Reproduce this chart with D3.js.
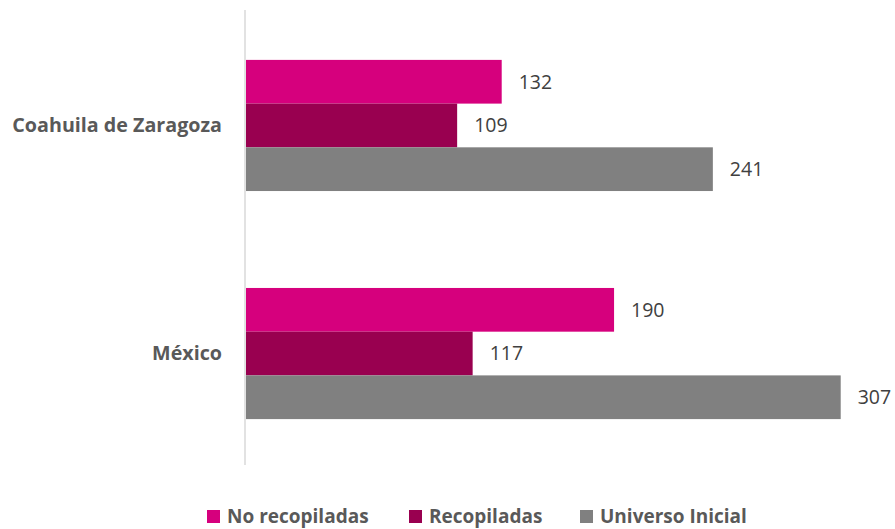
<!DOCTYPE html>
<html>
<head>
	<meta charset="utf-8" />
	<style>
		body { margin: 0; background: #fff; }
		svg { display: block; font-family: "Open Sans", sans-serif; }
	</style>
</head>
<body>
	<script src="https://cdn.jsdelivr.net/npm/d3@7"></script>
	<script>
		// data
		var categories = ["Coahuila de Zaragoza", "México"];
		var seriesNames = ["No recopiladas", "Recopiladas", "Universo Inicial"];
		var noRecopiladas = [132, 190];
		var recopiladas = [109, 117];
		var universoInicial = [241, 307];
		var colors = ["#d6007d", "#990050", "#808080"];

		var width = 895, height = 529;
		var svg = d3.select("body").append("svg")
			.attr("width", width)
			.attr("height", height);

		var values = [noRecopiladas, recopiladas, universoInicial];
		var rows = categories.map((c, i) => ({
			cat: c,
			vals: seriesNames.map((s, j) => ({ series: s, v: values[j][i], color: colors[j] }))
		}));

		var y = d3.scaleBand()
			.domain(categories)
			.range([12, 467])
			.paddingInner(0.425)
			.paddingOuter(0.21);

		var ySub = d3.scaleBand()
			.domain(seriesNames)
			.range([0, y.bandwidth()]);

		var x = d3.scaleLinear()
			.domain([0, 350])
			.range([246, 924]);

		// category axis line
		svg.append("line")
			.attr("x1", 245).attr("x2", 245)
			.attr("y1", 10).attr("y2", 465)
			.attr("stroke", "#d9d9d9")
			.attr("stroke-width", 1.5);

		var groups = svg.selectAll(".cat")
			.data(rows)
			.join("g")
			.attr("class", "cat")
			.attr("transform", d => `translate(0,${y(d.cat)})`);

		groups.selectAll("rect")
			.data(d => d.vals)
			.join("rect")
			.attr("x", x(0))
			.attr("y", d => ySub(d.series))
			.attr("width", d => x(d.v) - x(0))
			.attr("height", ySub.bandwidth())
			.attr("fill", d => d.color);

		groups.selectAll(".val")
			.data(d => d.vals)
			.join("text")
			.attr("class", "val")
			.attr("x", d => x(d.v) + 17)
			.attr("y", d => ySub(d.series) + ySub.bandwidth() / 2)
			.attr("dy", "0.35em")
			.attr("fill", "#404040")
			.attr("font-size", 19.5)
			.text(d => d.v);

		groups.append("text")
			.attr("x", 222)
			.attr("y", y.bandwidth() / 2)
			.attr("dy", "0.35em")
			.attr("text-anchor", "end")
			.attr("fill", "#595959")
			.attr("font-size", 19.7)
			.attr("font-weight", "bold")
			.text(d => d.cat);

		// legend
		var legendX = [207, 409, 580];
		var legend = svg.selectAll(".legend")
			.data(seriesNames)
			.join("g")
			.attr("class", "legend")
			.attr("transform", (d, i) => `translate(${legendX[i]},510)`);

		legend.append("rect")
			.attr("width", 13)
			.attr("height", 13)
			.attr("fill", (d, i) => colors[i]);

		legend.append("text")
			.attr("x", 20)
			.attr("y", 6.5)
			.attr("dy", "0.35em")
			.attr("fill", "#595959")
			.attr("font-size", 19)
			.attr("font-weight", "bold")
			.text(d => d);
	</script>
</body>
</html>
